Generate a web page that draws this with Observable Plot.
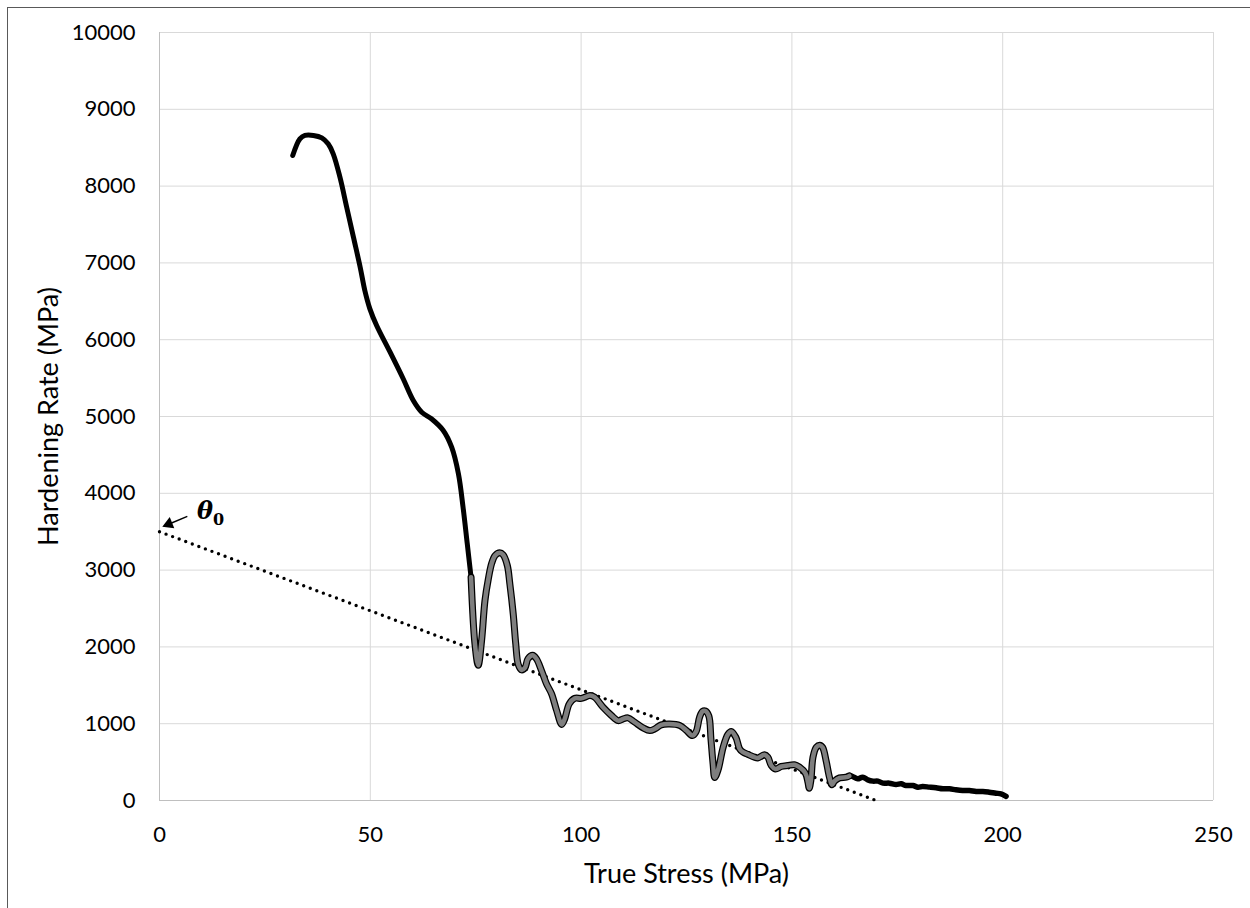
<!DOCTYPE html>
<html>
<head>
<meta charset="utf-8">
<script src="https://cdn.jsdelivr.net/npm/d3@7"></script>
<script src="https://cdn.jsdelivr.net/npm/@observablehq/plot@0.6"></script>
<style>
  html, body { margin: 0; padding: 0; background: #fff; overflow: hidden; }
  #wrap { position: relative; width: 1250px; height: 908px; }
  #frame { position: absolute; left: 7px; top: 7px; width: 1400px; height: 1100px; border: 1px solid #595959; box-sizing: border-box; }
  #chart { position: absolute; left: 0; top: 0; }
</style>
</head>
<body>
<div id="wrap"><div id="frame"></div><div id="chart"></div></div>
<script>
// ---- data ----
const xTicks = [0, 50, 100, 150, 200, 250];
const yTicks = [0, 1000, 2000, 3000, 4000, 5000, 6000, 7000, 8000, 9000, 10000];

// early stage (black)
const earlyStress = [31.6, 33.3, 34.5, 36.5, 38.5, 40.0, 41.2, 42.8, 44.4, 46.0, 47.6, 48.7, 49.9, 51.5, 54.7, 57.8, 60.2, 62.2, 64.5, 67.3, 69.3, 70.9, 72.0, 73.0, 73.9];
const earlyRate   = [8398, 8615, 8660, 8660, 8628, 8550, 8420, 8116, 7725, 7335, 6944, 6641, 6402, 6185, 5837, 5491, 5208, 5056, 4970, 4818, 4600, 4254, 3819, 3342, 2908];

// serrated stage (grey)
const midStress = [73.9, 74.8, 75.6, 76.4, 77.2, 78.0, 78.8, 79.6, 80.7, 81.5, 82.5, 83.1, 83.9, 84.5, 85.1, 85.9, 86.7, 87.4, 88.5, 89.4, 90.6, 91.8, 93.0, 94.2, 95.4, 96.1, 97.2, 98.5, 100.1, 102.1, 103.2, 105.2, 107.2, 108.8, 110.0, 111.1, 112.7, 114.7, 116.3, 117.5, 119.0, 121.0, 123.4, 125.0, 126.4, 127.3, 128.1, 128.8, 129.5, 130.3, 130.8, 131.3, 131.7, 132.5, 133.7, 134.8, 135.6, 136.7, 137.6, 138.4, 139.6, 141.1, 141.9, 143.5, 144.3, 145.1, 146.1, 147.5, 149.0, 150.6, 151.8, 153.2, 153.8, 154.1, 154.5, 155.0, 155.8, 156.6, 157.3, 158.1, 158.9, 159.5, 160.1, 161.3, 162.9, 163.6];
const midRate   = [2908, 2050, 1760, 2083, 2604, 2886, 3090, 3190, 3225, 3200, 3060, 2821, 2431, 2040, 1770, 1700, 1730, 1845, 1890, 1845, 1693, 1519, 1389, 1172, 990, 1060, 1259, 1330, 1330, 1367, 1345, 1215, 1107, 1040, 1063, 1076, 1020, 946, 910, 933, 985, 995, 977, 911, 845, 900, 1085, 1160, 1165, 1100, 800, 480, 300, 400, 694, 860, 900, 824, 673, 629, 600, 564, 553, 595, 564, 456, 410, 443, 456, 465, 434, 356, 240, 160, 260, 564, 694, 720, 690, 521, 304, 205, 252, 295, 304, 320];

// late stage (black)
const lateStress = [163.6, 164.4, 165.6, 166.8, 168.0, 169.2, 170.4, 171.6, 173.1, 174.7, 175.9, 177.1, 178.7, 179.9, 181.0, 182.6, 184.2, 185.8, 187.4, 188.9, 190.5, 192.1, 193.7, 195.3, 196.8, 198.4, 199.6, 200.8];
const lateRate   = [326, 312, 282, 304, 269, 252, 252, 226, 226, 208, 217, 195, 195, 174, 182, 174, 165, 152, 152, 139, 130, 130, 117, 117, 108, 95, 87, 55];

// linear extrapolation to theta_0
const fitStress = [0, 170];
const fitRate   = [3500, 0];

// theta_0 annotation
const noteArrow = [{x1: 6.6, y1: 3700, x2: 2.3, y2: 3600}];
const noteHead  = [{x: 2.2, y: 3600}];
const noteTheta = [{x: 8.9, y: 3770, label: "θ"}];
const noteSub   = [{x: 12.7, y: 3650, label: "0"}];

const xLabel = "True Stress (MPa)";
const yLabel = "Hardening Rate (MPa)";

// ---- build ----
const early = earlyStress.map((s, i) => ({s, r: earlyRate[i]}));
const mid   = midStress.map((s, i) => ({s, r: midRate[i]}));
const late  = lateStress.map((s, i) => ({s, r: lateRate[i]}));
const fit   = fitStress.map((s, i) => ({s, r: fitRate[i]}));

const chart = Plot.plot({
  width: 1250,
  height: 908,
  marginTop: 32,
  marginRight: 37,
  marginBottom: 108,
  marginLeft: 159,
  x: {domain: [0, 250]},
  y: {domain: [0, 10000]},
  style: {fontFamily: "Lato", fontSize: "22px", color: "#000", background: "transparent", overflow: "visible"},
  marks: [
    Plot.gridX(xTicks.filter(d => d > 0), {stroke: "#d9d9d9", strokeOpacity: 1, strokeWidth: 1}),
    Plot.gridY(yTicks.filter(d => d > 0), {stroke: "#d9d9d9", strokeOpacity: 1, strokeWidth: 1}),
    Plot.ruleX([0], {stroke: "#bfbfbf", strokeWidth: 1}),
    Plot.ruleY([0], {stroke: "#bfbfbf", strokeWidth: 1}),
    Plot.axisX(xTicks, {tickSize: 0, tickPadding: 26, label: null, fill: "#000"}),
    Plot.axisY(yTicks, {tickSize: 0, tickPadding: 24, label: null, tickFormat: d => String(d), fill: "#000"}),
    Plot.text([xLabel], {frameAnchor: "bottom", text: d => d, dy: 82, fontSize: 27, fill: "#000"}),
    Plot.text([yLabel], {frameAnchor: "left", textAnchor: "middle", lineAnchor: "middle", text: d => d, rotate: -90, dx: -110, fontSize: 27, fill: "#000"}),
    Plot.line(fit, {x: "s", y: "r", stroke: "#000", strokeWidth: 3.4, strokeDasharray: "0,7", strokeLinecap: "round"}),
    Plot.line(early, {x: "s", y: "r", stroke: "#000", strokeWidth: 5, curve: "catmull-rom"}),
    Plot.line(late, {x: "s", y: "r", stroke: "#000", strokeWidth: 5.5, curve: "catmull-rom"}),
    Plot.line(mid, {x: "s", y: "r", stroke: "#000", strokeWidth: 7, curve: "catmull-rom"}),
    Plot.line(mid, {x: "s", y: "r", stroke: "#7f7f7f", strokeWidth: 4.5, curve: "catmull-rom"}),
    Plot.link(noteArrow, {x1: "x1", y1: "y1", x2: "x2", y2: "y2", stroke: "#000", strokeWidth: 1.5}),
    Plot.dot(noteHead, {x: "x", y: "y", symbol: "triangle", r: 4.5, fill: "#000", stroke: "none", rotate: 248}),
    Plot.text(noteTheta, {x: "x", y: "y", text: "label", textAnchor: "start", fontFamily: "DejaVu Serif", fontWeight: "bold", fontStyle: "italic", fontSize: 24, fill: "#000"}),
    Plot.text(noteSub, {x: "x", y: "y", text: "label", textAnchor: "start", fontFamily: "DejaVu Serif", fontWeight: "bold", fontSize: 16, fill: "#000"})
  ]
});
document.getElementById("chart").appendChild(chart);
</script>
</body>
</html>
